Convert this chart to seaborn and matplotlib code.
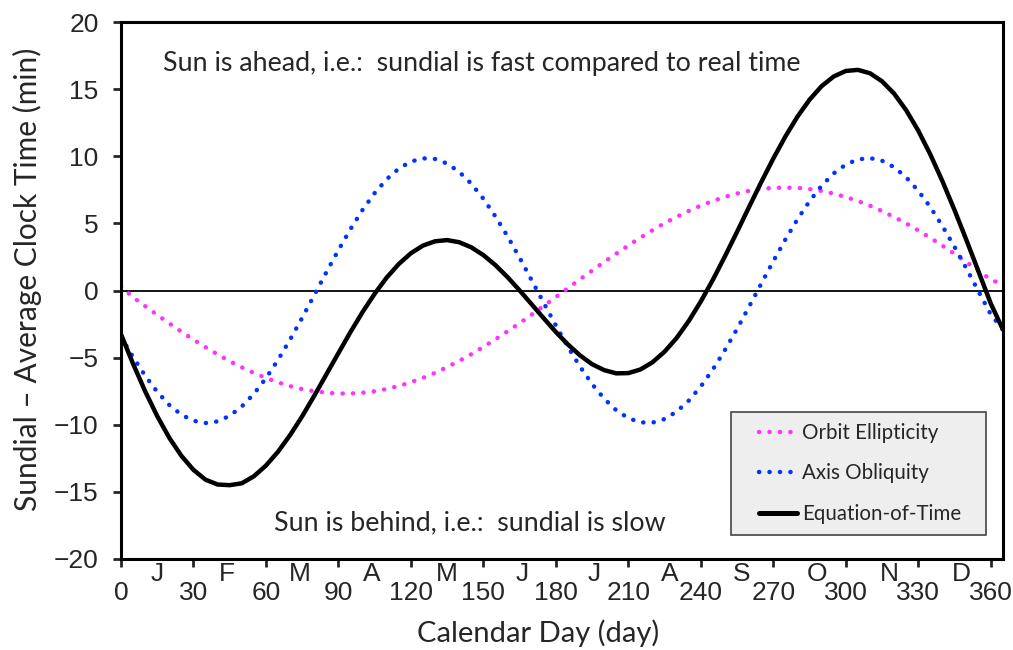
import numpy as np
import pandas as pd
import matplotlib
matplotlib.use("Agg")
import matplotlib.pyplot as plt
import seaborn as sns
from matplotlib.lines import Line2D
from matplotlib.legend_handler import HandlerLine2D

# values (minutes), every 5 days + day 365
days = list(range(0, 361, 5)) + [365]
orbit_ellipticity = [0.3, -0.50, -1.16, -1.81, -2.45, -3.06, -3.66, -4.22, -4.76, -5.26,
                     -5.72, -6.14, -6.51, -6.84, -7.12, -7.34, -7.50, -7.61, -7.67, -7.67,
                     -7.61, -7.50, -7.33, -7.11, -6.83, -6.50, -6.13, -5.70, -5.24, -4.74,
                     -4.20, -3.63, -3.04, -2.43, -1.79, -1.14, -0.49, 0.18, 0.84, 1.48,
                     2.13, 2.75, 3.36, 3.94, 4.50, 5.02, 5.49, 5.93, 6.33, 6.68,
                     6.98, 7.23, 7.43, 7.57, 7.65, 7.67, 7.65, 7.56, 7.42, 7.22,
                     6.97, 6.67, 6.32, 5.92, 5.48, 5.00, 4.48, 3.92, 3.34, 2.74,
                     2.11, 1.47, 0.81, 0.45]
axis_obliquity = [-3.45, -4.95, -6.34, -7.54, -8.52, -9.25, -9.70, -9.87, -9.75, -9.33,
                  -8.64, -7.70, -6.53, -5.17, -3.65, -2.03, -0.34, 1.36, 3.01, 4.58,
                  6.01, 7.26, 8.30, 9.09, 9.61, 9.85, 9.80, 9.46, 8.84, 7.96,
                  6.84, 5.52, 4.04, 2.44, 0.76, -0.93, -2.60, -4.20, -5.67, -6.97,
                  -8.06, -8.92, -9.51, -9.82, -9.84, -9.57, -9.02, -8.20, -7.14, -5.87,
                  -4.42, -2.85, -1.19, 0.51, 2.19, 3.81, 5.31, 6.66, 7.81, 8.73,
                  9.39, 9.77, 9.87, 9.67, 9.19, 8.43, 7.43, 6.21, 4.80, 3.25,
                  1.61, -0.09, -1.78, -2.9]
equation_of_time = [-3.25, -5.45, -7.50, -9.35, -10.97, -12.31, -13.36, -14.09, -14.45, -14.5,
                    -14.36, -13.84, -13.04, -12.01, -10.77, -9.37, -7.84, -6.25, -4.66, -3.09,
                    -1.60, -0.24, 0.97, 1.98, 2.78, 3.35, 3.67, 3.76, 3.60, 3.22,
                    2.64, 1.89, 1.00, 0.01, -1.03, -2.07, -3.09, -4.02, -4.83, -5.49,
                    -5.93, -6.17, -6.15, -5.88, -5.34, -4.55, -3.53, -2.27, -0.81, 0.81,
                    2.56, 4.38, 6.24, 8.08, 9.84, 11.48, 12.96, 14.22, 15.23, 15.95,
                    16.36, 16.44, 16.19, 15.59, 14.67, 13.43, 11.91, 10.13, 8.14, 5.99,
                    3.72, 1.38, -0.97, -2.9]

day_ticks = list(range(0, 361, 30))
month_pos = [15, 44, 74, 104, 135, 166, 196, 227, 257, 288, 318, 348]
month_letters = ["J", "F", "M", "A", "M", "J", "J", "A", "S", "O", "N", "D"]

sns.set_style("ticks")
plt.rcParams["font.family"] = ["Liberation Sans", "DejaVu Sans"]
calibri_like = ["Lato", "DejaVu Sans"]

df = pd.DataFrame({"day": days, "ell": orbit_ellipticity,
                   "obl": axis_obliquity, "eot": equation_of_time})

fig = plt.figure(figsize=(10.13, 6.5), dpi=100)
ax = fig.add_axes([0.1194, 0.140, 0.8706, 0.826])

dot = (0, (0.05, 2.3))
sns.lineplot(data=df, x="day", y="ell", ax=ax, color="#FF33FF", lw=3.2,
             linestyle=dot, dash_capstyle="round")
sns.lineplot(data=df, x="day", y="obl", ax=ax, color="#0033FF", lw=3.2,
             linestyle=dot, dash_capstyle="round")
sns.lineplot(data=df, x="day", y="eot", ax=ax, color="black", lw=3.2)
ax.axhline(0, color="black", lw=1.3, zorder=1)

ax.set_xlim(0, 365)
ax.set_ylim(-20, 20)
ax.set_yticks(range(-20, 21, 5))
ax.set_xticks(day_ticks)
ax.set_xticks(month_pos, minor=True)
ax.set_xticklabels(month_letters, minor=True)
ax.tick_params(axis="x", which="major", length=6, width=2, pad=10, labelsize=19,
               direction="out")
ax.tick_params(axis="x", which="minor", length=0, pad=2, labelsize=19)
ax.tick_params(axis="y", length=6, width=2, pad=10, labelsize=19, direction="out")
for s in ax.spines.values():
    s.set_linewidth(2.2)
    s.set_color("black")

ax.set_xlabel("Calendar Day (day)", fontsize=21, family=calibri_like)
ax.set_ylabel("Sundial \u2013 Average Clock Time (min)", fontsize=21.5, family=calibri_like)
ax.xaxis.set_label_coords(0.473, -0.113)
ax.yaxis.set_label_coords(-0.089, 0.52)

ax.text(17.4, 16.9, "Sun is ahead, i.e.:  sundial is fast compared to real time",
        fontsize=19.3, family=calibri_like, va="center", ha="left")
ax.text(63.5, -17.3, "Sun is behind, i.e.:  sundial is slow",
        fontsize=19.3, family=calibri_like, va="center", ha="left")

handles = [
    Line2D([], [], color="#FF33FF", lw=3.2, linestyle=dot, dash_capstyle="round"),
    Line2D([], [], color="#0033FF", lw=3.2, linestyle=dot, dash_capstyle="round"),
    Line2D([], [], color="black", lw=3.6),
]
leg = ax.legend(handles, ["Orbit Ellipticity", "Axis Obliquity", "Equation-of-Time"],
                loc="lower left", bbox_to_anchor=(0.6916, 0.0447, 0.2891, 0.2),
                mode="expand", borderaxespad=0,
                fancybox=False, framealpha=1, facecolor="#EEEEEE", edgecolor="#444444",
                prop={"family": calibri_like, "size": 14.8}, handlelength=2.67,
                handler_map={Line2D: HandlerLine2D(xpad=0.83)},
                handletextpad=0.25, labelspacing=1.0, borderpad=0.54)
leg.get_frame().set_linewidth(1.2)

fig.savefig("out.png", dpi=100)
